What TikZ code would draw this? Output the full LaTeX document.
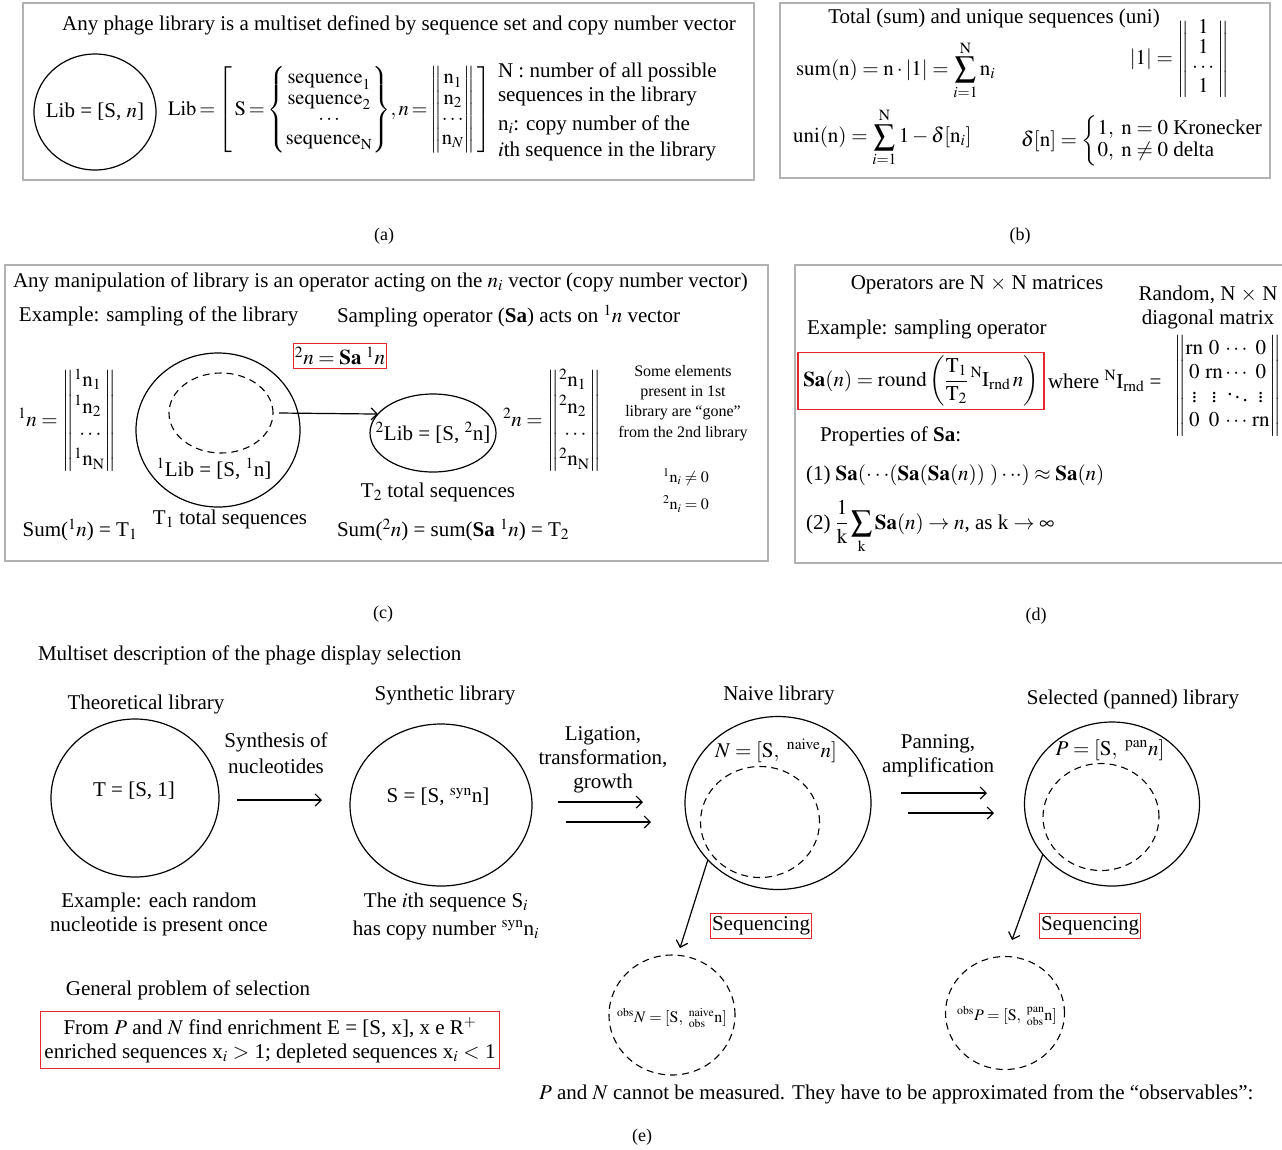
\documentclass[tikz,border=0pt]{standalone}
\usepackage{amsmath}
\usepackage{mathptmx}
\usepackage{fontspec}
\setmainfont{Liberation Serif}
\usetikzlibrary{shapes.geometric,arrows.meta}
\definecolor{boxred}{RGB}{225,40,45}
\definecolor{panelgray}{RGB}{178,178,178}
\newcommand\mfs{\fontsize{21}{24}\selectfont}
\newcommand\efs{\fontsize{20.5}{23}\selectfont}
\newcommand\sfs{\fontsize{16}{20.3}\selectfont}
\newcommand\lfs{\fontsize{18}{22}\selectfont}
\begin{document}
\begin{tikzpicture}[x=1pt,y=-1pt,
  every node/.style={inner sep=0pt,outer sep=0pt},
  txt/.style={font=\mfs},
  sml/.style={font=\sfs},
  panel/.style={draw=panelgray,line width=1.5pt},
  redbox/.style={draw=boxred,line width=1.2pt,inner xsep=1.5pt,inner ysep=3pt},
  ell/.style={ellipse,draw,line width=1.2pt,inner sep=0pt},
  dell/.style={ellipse,draw,line width=1.1pt,dash pattern=on 7pt off 5pt,inner sep=0pt},
  arr/.style={line width=1.2pt,-{Straight Barb[length=6pt,width=12pt]}},
  plbl/.style={font=\lfs}]
\useasboundingbox (0,0) rectangle (1282,1149);
% ---------------- (a)
\draw[panel] (23,3) rectangle (754,180);
\node[txt] (at) at (399,25) {Any phage library is a multiset defined by sequence set and copy number vector};
\node[ell,minimum width=122pt,minimum height=116pt] (alib) at (95,112) {};
\node[txt] (alibt) at (alib.center) {Lib = [S, $n$]};
\node[font=\efs,anchor=west] (aeq) at (168,110) {$\thickmuskip=2.5mu\def\arraystretch{0.87}\mathrm{Lib} = \left[\;\mathrm{S} = \left\{\begin{array}{@{}c@{}}\mathrm{sequence}_1\\ \mathrm{sequence}_2\\ \cdots\\ \mathrm{sequence}_{\mathrm{N}}\end{array}\right\}\!, n = \left\|\begin{array}{@{}c@{}}\mathrm{n}_1\\ \mathrm{n}_2\\ \cdots\\ \mathrm{n}_N\end{array}\right\|\;\right]$};
\node[txt,anchor=west,align=left] (aN) at (498,84) {N : number of all possible\\sequences in the library};
\node[txt,anchor=west,align=left] (ani) at (498,138) {n$_i$: copy number of the\\[2pt]$i$th sequence in the library};
\node[plbl] (la) at (384,236) {(a)};
% ---------------- (b)
\draw[panel] (780,3) rectangle (1270,178);
\node[txt] (bt) at (994,18) {Total (sum) and unique sequences (uni)};
\node[txt,anchor=west] (bsum) at (796,70) {$\displaystyle \mathrm{sum(n)} = \mathrm{n}\cdot|1| = \sum_{i=1}^{\mathrm{N}}\mathrm{n}_i$};
\node[txt,anchor=east] (bone) at (1229,59) {$\def\arraystretch{0.82}|1| = \left\|\begin{array}{@{\hspace{3pt}}c@{\hspace{3pt}}}1\\1\\\cdots\\1\end{array}\right\|$};
\node[txt,anchor=west] (buni) at (793,137) {$\displaystyle \mathrm{uni(n)} = \sum_{i=1}^{\mathrm{N}} 1 - \delta[\mathrm{n}_i]$};
\node[txt,anchor=west] (bdelta) at (1021,141) {$\def\arraystretch{0.92}\delta[\mathrm{n}] = \left\{\begin{array}{@{}l@{}}1,\ \mathrm{n} = 0 \mbox{ Kronecker}\\ 0,\ \mathrm{n}\neq 0 \mbox{ delta}\end{array}\right.$};
\node[plbl] (lb) at (1020,236) {(b)};
% ---------------- (c)
\draw[panel] (5,265) rectangle (768,561);
\node[txt,anchor=west] (ct) at (13,282) {Any manipulation of library is an operator acting on the $n_i$ vector (copy number vector)};
\node[txt,anchor=west] (cex) at (19,316) {Example: sampling of the library};
\node[txt,anchor=west] (csa) at (337,316) {Sampling operator (\textbf{Sa}) acts on ${}^1n$ vector};
\node[txt,redbox] (cred) at (340,356) {${}^2n = \mathbf{Sa}\;{}^1n$};
\node[txt,anchor=west] (cv1) at (18,421) {$\def\arraystretch{1.1}{}^1n = \left\|\begin{array}{@{}l@{}}{}^1\mathrm{n}_1\\{}^1\mathrm{n}_2\\\ \cdots\\{}^1\mathrm{n}_{\mathrm{N}}\end{array}\right\|$};
\node[ell,minimum width=164pt,minimum height=154pt] (c1lib) at (218,430) {};
\node[dell,minimum width=104pt,minimum height=80pt] (c1in) at (221,413) {};
\node[txt] (c1t) at (214,469) {${}^1$Lib = [S, ${}^1$n]};
\node[ell,minimum width=126pt,minimum height=78pt] (c2lib) at (433,433) {};
\node[txt] (c2t) at (433,433) {${}^2$Lib = [S, ${}^2$n]};
\draw[arr] ([xshift=6pt]c1in.east) -- (c2lib.161);
\node[txt] (ct2) at (438,492) {T$_2$ total sequences};
\node[txt] (ct1) at (230,519) {T$_1$ total sequences};
\node[txt] (csum1) at (80,530) {Sum(${}^1n$) = T$_1$};
\node[txt,anchor=west] (csum2) at (337,530) {Sum(${}^2n$) = sum(\textbf{Sa} ${}^1n$) = T$_2$};
\node[txt,anchor=west] (cv2) at (503,421) {$\def\arraystretch{1.1}{}^2n = \left\|\begin{array}{@{}l@{}}{}^2\mathrm{n}_1\\{}^2\mathrm{n}_2\\\ \cdots\\{}^2\mathrm{n}_{\mathrm{N}}\end{array}\right\|$};
\node[sml,align=center] (cgone) at (683,403) {Some elements\\present in 1st\\library are “gone”\\from the 2nd library};
\node[sml] (cne) at (686,477) {${}^1\mathrm{n}_i \neq 0$};
\node[sml] (ceq) at (686,504) {${}^2\mathrm{n}_i = 0$};
\node[plbl] (lc) at (383,614) {(c)};
% ---------------- (d)
\draw[panel] (795,265) rectangle (1290,563);
\node[txt] (dt) at (977,285) {Operators are N $\times$ N matrices};
\node[txt,align=center] (drand) at (1208,307) {Random, N $\times$ N\\diagonal matrix};
\node[txt,anchor=west] (dex) at (807,329) {Example: sampling operator};
\node[txt,redbox,minimum width=246pt,minimum height=54pt] (dred) at (921,381) {$\mathbf{Sa}(n) = \mathrm{round}\left(\displaystyle\frac{\mathrm{T}_1}{\mathrm{T}_2}\,{}^{\mathrm{N}}\mathrm{I}_{\mathrm{rnd}}\,n\right)$};
\node[txt,anchor=west] (dwhere) at (1048,381) {where ${}^{\mathrm{N}}\mathrm{I}_{\mathrm{rnd}}$ =};
\node[txt,anchor=west] (dmat) at (1174,386) {$\left\|\begin{array}{@{}c@{\,}c@{\,}c@{\,}c@{}}\mathrm{rn}&0&\cdots&0\\0&\mathrm{rn}&\cdots&0\\\vdots&\vdots&\ddots&\vdots\\0&0&\cdots&\mathrm{rn}\end{array}\right\|$};
\node[txt,anchor=west] (dprop) at (820,436) {Properties of \textbf{Sa}:};
\node[txt,anchor=west] (dp1) at (806,475) {(1) $\mathbf{Sa}(\cdot\cdot\cdot(\mathbf{Sa}(\mathbf{Sa}(n))\ )\cdot\cdot\cdot) \approx \mathbf{Sa}(n)$};
\node[txt,anchor=west] (dp2) at (806,527) {(2) $\displaystyle\frac{1}{\mathrm{k}}\sum_{\mathrm{k}}\mathbf{Sa}(n) \rightarrow n$, as k $\rightarrow\infty$};
\node[plbl] (ld) at (1036,616) {(d)};
% ---------------- (e)
\node[txt,anchor=west] (et) at (38,655) {Multiset description of the phage display selection};
\node[txt] (eth) at (146,704) {Theoretical library};
\node[ell,minimum width=168pt,minimum height=158pt] (eT) at (135,798) {};
\node[txt] (eTt) at (134,791) {T = [S, 1]};
\node[txt,align=center] (esyn) at (276,753) {Synthesis of\\[2pt]nucleotides};
\coordinate (e1a) at (237,800); \coordinate (e1b) at (322,800);
\draw[arr] (e1a) -- (e1b);
\node[txt] (esl) at (445,695) {Synthetic library};
\node[ell,minimum width=182pt,minimum height=162pt] (eS) at (441,805) {};
\node[txt] (eSt) at (438,797) {S = [S, ${}^{\mathrm{syn}}$n]};
\node[txt,align=center] (eex) at (159,914) {Example: each random\\nucleotide is present once};
\node[txt,align=center] (eith) at (446,916) {The $i$th sequence S$_i$\\[4pt]has copy number ${}^{\mathrm{syn}}$n$_i$};
\node[txt,align=center] (elig) at (603,760) {Ligation,\\transformation,\\growth};
\coordinate (e2a) at (558,802); \coordinate (e2b) at (643,802);
\coordinate (e3a) at (566,822); \coordinate (e3b) at (651,822);
\draw[arr] (e2a) -- (e2b);
\draw[arr] (e3a) -- (e3b);
\node[txt] (enl) at (779,695) {Naive library};
\node[ell,minimum width=186pt,minimum height=173pt] (eN) at (778,803) {};
\node[dell,minimum width=119pt,minimum height=111pt] (eNin) at (760,822) {};
\node[txt] (eNt) at (776,751) {$N = [\mathrm{S},\ {}^{\mathrm{naive}}n]$};
\node[txt,align=center] (epan) at (938,756) {Panning,\\amplification};
\coordinate (e4a) at (901,793); \coordinate (e4b) at (987,793);
\coordinate (e5a) at (908,813); \coordinate (e5b) at (994,813);
\draw[arr] (e4a) -- (e4b);
\draw[arr] (e5a) -- (e5b);
\node[txt] (espl) at (1133,699) {Selected (panned) library};
\node[ell,minimum width=175pt,minimum height=164pt] (eP) at (1112,804) {};
\node[dell,minimum width=116pt,minimum height=107pt] (ePin) at (1101,817) {};
\node[txt] (ePt) at (1110,750) {$P = [\mathrm{S},\ {}^{\mathrm{pan}}n]$};
\node[txt,redbox] (eseq1) at (761,926) {Sequencing};
\node[txt,redbox] (eseq2) at (1090,926) {Sequencing};
\node[dell,minimum width=126pt,minimum height=120pt] (eoN) at (672,1015) {};
\node[sml] (eoNt) at (672,1018) {${}^{\mathrm{obs}}N = [\mathrm{S},\ {}^{\mathrm{naive}}_{\mathrm{obs}}\mathrm{n}]$};
\node[dell,minimum width=119pt,minimum height=113pt] (eoP) at (1005,1013) {};
\node[sml] (eoPt) at (1007,1016) {${}^{\mathrm{obs}}P = [\mathrm{S},\ {}^{\mathrm{pan}}_{\mathrm{obs}}\mathrm{n}]$};
\coordinate (eNend) at (680,948);
\draw[arr] (eN.219) -- (eNend);
\coordinate (ePend) at (1012,940);
\draw[arr] (eP.216) -- (ePend);
\node[txt,anchor=west] (emeas) at (539,1094) {$P$ and $N$ cannot be measured. They have to be approximated from the “observables”:};
\node[txt] (egp) at (188,990) {General problem of selection};
\node[txt,draw=boxred,line width=1.2pt,minimum width=459pt,minimum height=57pt,align=center] (ebox) at (270,1040) {From $P$ and $N$ find enrichment E = [S, x], x e R$^+$\\enriched sequences x$_i$ $>$ 1; depleted sequences x$_i$ $<$ 1};
\node[plbl] (le) at (642,1137) {(e)};
\end{tikzpicture}
\end{document}
